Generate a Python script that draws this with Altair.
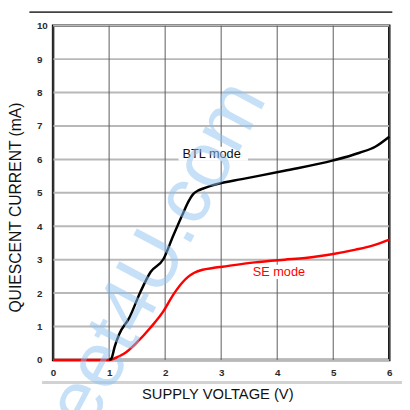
import altair as alt
import pandas as pd

# --- data ---
btl_x = [1.0, 1.04, 1.1, 1.18, 1.36, 1.56, 1.74, 1.97, 2.14, 2.32, 2.42, 2.5, 2.58, 2.68, 2.8, 2.95, 3.37, 4.13, 5.0, 5.47, 5.75, 6.0]
btl_y = [0.0, 0.04, 0.4, 0.77, 1.26, 2.04, 2.63, 3.02, 3.70, 4.39, 4.75, 4.96, 5.06, 5.13, 5.2, 5.27, 5.41, 5.66, 5.97, 6.2, 6.38, 6.68]

se_x = [0.0, 0.5, 1.0, 1.1, 1.27, 1.5, 1.74, 1.97, 2.14, 2.32, 2.42, 2.52, 2.67, 2.85, 3.02, 3.6, 4.13, 4.5, 5.0, 5.4, 5.7, 6.0]
se_y = [0.0, 0.0, 0.0, 0.05, 0.19, 0.53, 0.97, 1.46, 1.94, 2.34, 2.5, 2.61, 2.7, 2.75, 2.79, 2.92, 3.0, 3.05, 3.17, 3.3, 3.42, 3.6]

x_ticks = [0, 1, 2, 3, 4, 5, 6]
y_ticks = [0, 1, 2, 3, 4, 5, 6, 7, 8, 9, 10]

label_text = ["BTL mode", "SE mode"]
label_x = [2.83, 4.03]
label_y = [6.16, 2.64]
label_color = ["#111111", "#ff0000"]
box_x = [2.24, 3.52]
box_x2 = [3.48, 4.58]
box_y = [5.96, 2.42]
box_y2 = [6.38, 2.85]

wm_text = ["DataSheet4U.com"]
wm_x = [3.45]
wm_y = [8.15]

FONT = "Liberation Sans"

btl = pd.DataFrame({"x": btl_x, "y": btl_y})
se = pd.DataFrame({"x": se_x, "y": se_y})
labels = pd.DataFrame({"t": label_text, "x": label_x, "y": label_y, "c": label_color})
boxes = pd.DataFrame({"x": box_x, "x2": box_x2, "y": box_y, "y2": box_y2})
wm = pd.DataFrame({"t": wm_text, "x": wm_x, "y": wm_y})
xgrid = pd.DataFrame({"x": x_ticks})
ygrid = pd.DataFrame({"y": y_ticks})

xscale = alt.Scale(domain=[0, 6], nice=False, zero=False)
yscale = alt.Scale(domain=[0, 10], nice=False)

xaxis = alt.Axis(
    values=x_ticks, format="d", title="SUPPLY VOLTAGE (V)", grid=False,
    ticks=False, domain=False, labelFlush=False, labelOverlap=False,
    labelFont=FONT, labelFontSize=10, labelFontWeight="bold", labelColor="#2a2a2a", labelPadding=8,
    titleFont=FONT, titleFontSize=15, titleFontWeight="normal", titleColor="#111111",
    titleX=167.5, titleY=39, titleBaseline="alphabetic", titleAlign="center",
)
yaxis = alt.Axis(
    values=y_ticks, format="d", title="QUIESCENT CURRENT (mA)", grid=False,
    ticks=False, domain=False, labelFlush=False, labelOverlap=False,
    labelFont=FONT, labelFontSize=10, labelFontWeight="bold", labelColor="#2a2a2a",
    labelAlign="left", labelBaseline="middle", labelPadding=17,
    titleFont=FONT, titleFontSize=16, titleFontWeight="normal", titleColor="#111111",
    titleAngle=270, titleX=-38.5, titleY=185, titleAlign="center", titleBaseline="middle",
)

X = alt.X("x:Q", scale=xscale, axis=xaxis)
Y = alt.Y("y:Q", scale=yscale, axis=yaxis)

hgrid = alt.Chart(ygrid).mark_rule(color="#b8b8b8", strokeWidth=2).encode(y=Y)
vgrid = alt.Chart(xgrid).mark_rule(color="#5a5a5a", strokeWidth=1).encode(x=X)

box_layer = alt.Chart(boxes).mark_rect(color="white").encode(x=X, x2="x2:Q", y=Y, y2="y2:Q")

se_line = alt.Chart(se).mark_line(color="#ff0000", strokeWidth=2.5, interpolate="monotone").encode(x=X, y=Y)
btl_line = alt.Chart(btl).mark_line(color="#000000", strokeWidth=2.5, interpolate="monotone").encode(x=X, y=Y)

text_layer = alt.Chart(labels).mark_text(font=FONT, fontSize=13, align="center", baseline="middle").encode(
    x=X, y=Y, text="t:N", color=alt.Color("c:N", scale=None),
)

top_rule = alt.Chart(labels).mark_rule(color="#444444", strokeWidth=1.5).encode(
    x=alt.value(-24), x2=alt.value(346), y=alt.value(-13.7)
)
bottom_bar = alt.Chart(labels).mark_rule(color="#d2d2d2", strokeWidth=3).encode(
    x=alt.value(-11), x2=alt.value(360), y=alt.value(364)
)

wm_layer = alt.Chart(wm).mark_text(
    font=FONT, fontSize=80, align="right", baseline="middle", angle=298,
    color="#8fc3f3", opacity=0.5,
).encode(x=X, y=Y, text="t:N")

chart = alt.layer(
    hgrid, vgrid, box_layer, se_line, btl_line, text_layer, top_rule, bottom_bar, wm_layer
).properties(
    width=343, height=341,
    autosize=alt.AutoSizeParams(type="none"),
    padding={"left": 46, "top": 14, "right": 13, "bottom": 47},
).configure_view(stroke="black", strokeWidth=2.5)

chart.save("out.html", embed_options={"renderer": "svg", "actions": False})
